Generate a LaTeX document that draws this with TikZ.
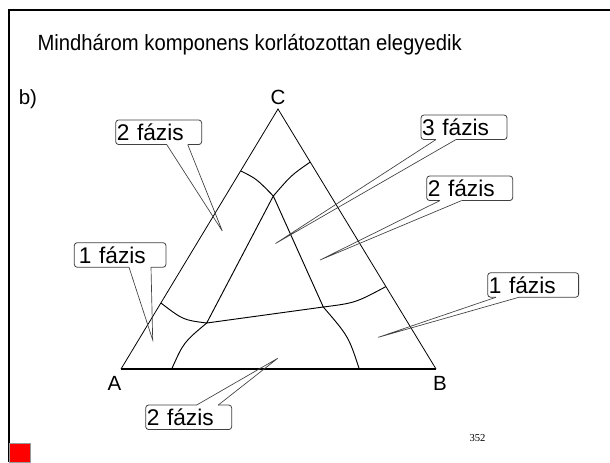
\documentclass[tikz,border=0pt]{standalone}
\usepackage{fontspec}
\setmainfont{Liberation Sans}
\newfontfamily\titlefont{Liberation Sans}[FakeStretch=0.92]
\newfontfamily\pagenumfont{Liberation Serif}
\usetikzlibrary{calc}
\definecolor{colFrame}{HTML}{000000}
\definecolor{colMark}{HTML}{FF0000}
\definecolor{colBoxLine}{HTML}{404040}

\begin{document}
\begin{tikzpicture}[
  x=0.75pt, y=-0.75pt,
  every node/.style={inner sep=0pt, outer sep=0pt},
  frame/.style={line width=1.5pt, color=colFrame},
  side/.style={line width=0.6pt},
  base/.style={line width=0.9pt},
  phaseline/.style={line width=0.7pt},
  callout/.style={
    draw=colBoxLine, fill=white, line width=0.6pt, rounded corners=2.2pt,
    font=\fontsize{17pt}{20pt}\selectfont,
    inner xsep=0.9pt, inner ysep=0pt,
    text height=15.7pt, text depth=2.7pt,
    text width=#1, align=left, anchor=north west
  },
  callout/.default=62.7pt,
  pointer/.style={draw=colBoxLine, line width=0.5pt},
  gapline/.style={draw=white, line width=1.3pt},
  corner/.style={font=\fontsize{15.4pt}{18pt}\selectfont, anchor=base},
]
\useasboundingbox (0,0) rectangle (610,462);

%% ============================================================
%% Slide frame, title, page mark
%% ============================================================
\draw[frame] (610,10) -- (8.7,10) -- (8.7,462);
\filldraw[fill=colMark, draw=black!40, line width=0.4pt] (9.6,443.5) rectangle (30,462.5);

\node[anchor=base west, font=\titlefont\fontsize{16.5pt}{20pt}\selectfont]
  (title) at (37.6,50) {Mindhárom komponens korlátozottan elegyedik};
\node[corner, anchor=base west] (part) at (18.8,104.5) {b)};
\node[anchor=base west, font=\pagenumfont\fontsize{8pt}{10pt}\selectfont]
  (pagenum) at (469.5,441) {352};

%% ============================================================
%% Triangle A-B-C
%% ============================================================
\coordinate (A) at (121,369);
\coordinate (B) at (436,369);
\coordinate (C) at (278,109);

\draw[side] (A) -- (C) -- (B);
\draw[base] (A) -- (B);

\node[corner] (labA) at (114.5,390) {A};
\node[corner] (labB) at (440,390) {B};
\node[corner] (labC) at (278,104.5) {C};

%% ============================================================
%% Phase boundaries
%% ============================================================
\coordinate (P1) at ($(A)!0.762!(C)$);
\coordinate (P3) at ($(A)!0.254!(C)$);
\coordinate (P2) at ($(C)!0.204!(B)$);
\coordinate (P4) at ($(C)!0.683!(B)$);
\coordinate (Q1) at ($(A)!0.161!(B)$);
\coordinate (Q2) at ($(A)!0.7565!(B)$);

\coordinate (J1) at (273.3,196);
\coordinate (J2) at (206.7,323);
\coordinate (J3) at (323.3,307);

% three-phase triangle
\draw[phaseline] (J1) -- (J2) -- (J3) -- cycle;

% upper two-phase arcs
\draw[phaseline] (P1) .. controls (256.4,178.7) .. (J1);
\draw[phaseline] (J1) .. controls (291.5,175) .. (P2);

% lower-left and right boundaries
\draw[phaseline] (P3) .. controls (183.2,320) .. (J2);
\draw[phaseline] (J2) .. controls (183.6,342.4) .. (Q1);
\draw[phaseline] (J3) .. controls (355.3,302.9) .. (P4);
\draw[phaseline] (J3) .. controls (348.5,336.3) .. (Q2);

%% ============================================================
%% Callouts
%% ============================================================
\node[callout] (fazis2a) at (115.7,120) {2 fázis};
\node[callout=61.75pt, inner xsep=3.5pt] (fazis1a) at (74.3,242.7) {1 fázis};
\node[callout] (fazis3) at (421,115) {3 fázis};
\node[callout] (fazis2b) at (426.7,176) {2 fázis};
\node[callout=66.4pt] (fazis1b) at (487.7,272.7) {1 fázis};
\node[callout] (fazis2c) at (145.7,405) {2 fázis};

\coordinate (tip2a) at (222.3,231);
\coordinate (tip1a) at (152.7,340);
\coordinate (tip3) at (275.5,243.5);
\coordinate (tip2b) at (320,260);
\coordinate (tip1b) at (378.3,337.3);
\coordinate (tip2c) at (277.7,358.3);

\foreach \lab/\corn/\tip/\ofa/\ofb in {
    fazis2a/south west/tip2a/51/72,
    fazis1a/south west/tip1a/54.7/76.7,
    fazis3/south west/tip3/15/35,
    fazis2b/south west/tip2b/13.3/35,
    fazis1b/south west/tip1b/8.3/31.3,
    fazis2c/north west/tip2c/51/72.6}
{
  \draw[gapline] ($(\lab.\corn)+(\ofa,0)$) -- ($(\lab.\corn)+(\ofb,0)$);
  \draw[pointer] ($(\lab.\corn)+(\ofa,0)$) -- (\tip) -- ($(\lab.\corn)+(\ofb,0)$);
}

\end{tikzpicture}
\end{document}
